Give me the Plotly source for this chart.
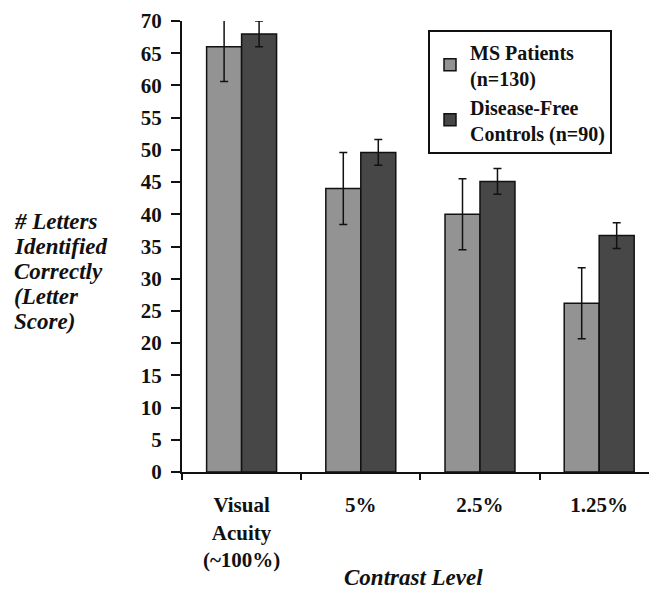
import plotly.graph_objects as go

categories = ["Visual<br>Acuity<br>(~100%)", "5%", "2.5%", "1.25%"]
ms_values = [66.0, 44.0, 40.0, 26.2]
ms_err = [5.4, 5.6, 5.5, 5.5]
ctrl_values = [68.0, 49.6, 45.1, 36.7]
ctrl_err = [2.0, 2.0, 2.0, 2.0]
series_names = ["MS Patients<br>(n=130)", "Disease-Free<br>Controls (n=90)"]
y_ticks = list(range(0, 71, 5))
y_title_lines = ["# Letters", "Identified", "Correctly", "(Letter", "Score)"]
x_title = "Contrast Level"

FONT = "Liberation Serif, Times New Roman, serif"
INK = "#111111"
OFF = 8  # browser body margin
W, H = 657 - OFF, 593 - OFF
PLOT_L, PLOT_T, PLOT_B = 182, 20.7, 471.7  # page pixels
ML = PLOT_L - OFF
MT = PLOT_T - OFF
MB = H - (PLOT_B - OFF)
PW = W - ML
PH = PLOT_B - PLOT_T


def px(xp):
    return (xp - PLOT_L) / PW


def py(yp):
    return 1 - (yp - PLOT_T) / PH


fig = go.Figure()
fig.add_trace(go.Bar(
    x=categories, y=ms_values, name=series_names[0],
    marker=dict(color="#939393", line=dict(color=INK, width=1.5)),
    error_y=dict(type="data", array=ms_err, color=INK, thickness=1.5, width=4),
))
fig.add_trace(go.Bar(
    x=categories, y=ctrl_values, name=series_names[1],
    marker=dict(color="#474747", line=dict(color=INK, width=1.5)),
    error_y=dict(type="data", array=ctrl_err, color=INK, thickness=1.5, width=4),
))

fig.update_layout(
    width=W, height=H,
    margin=dict(l=ML, r=0, t=MT, b=MB, pad=0, autoexpand=False),
    paper_bgcolor="white", plot_bgcolor="white",
    barmode="group", bargap=0.413, bargroupgap=0,
    font=dict(family=FONT, size=21, color=INK),
    legend=dict(
        x=px(428), y=py(30), xanchor="left", yanchor="top",
        bordercolor=INK, borderwidth=2, bgcolor="white",
        font=dict(family=FONT, size=20, color=INK, weight="bold"),
        tracegroupgap=0,
    ),
    showlegend=True,
)
fig.update_xaxes(
    type="category", range=[-0.5, 3.485],
    showline=True, linecolor=INK, linewidth=2,
    ticks="outside", tickson="boundaries", ticklen=6, tickwidth=2, tickcolor=INK,
    tickfont=dict(family=FONT, size=21, color=INK, weight="bold"),
    ticklabelstandoff=13,
    showgrid=False, zeroline=False,
)
fig.update_yaxes(
    range=[0, 70], tickvals=y_ticks,
    showline=True, linecolor=INK, linewidth=2,
    ticks="outside", ticklen=9, tickwidth=2, tickcolor=INK,
    tickfont=dict(family=FONT, size=21, color=INK, weight="bold"),
    ticklabelstandoff=5,
    showgrid=False, zeroline=False,
)

fig.add_annotation(
    text="<b><i>%s</i></b>" % x_title, xref="paper", yref="paper",
    x=px(413), y=py(592), xanchor="center", yanchor="bottom",
    showarrow=False, font=dict(family=FONT, size=23, color=INK),
)
for i, line in enumerate(y_title_lines):
    fig.add_annotation(
        text="<b><i>%s</i></b>" % line,
        xref="paper", yref="paper", align="left",
        x=px(OFF + 4), y=py(221 + 25 * i), xanchor="left", yanchor="middle",
        showarrow=False, font=dict(family=FONT, size=23, color=INK),
    )

fig.write_html("out.html")
